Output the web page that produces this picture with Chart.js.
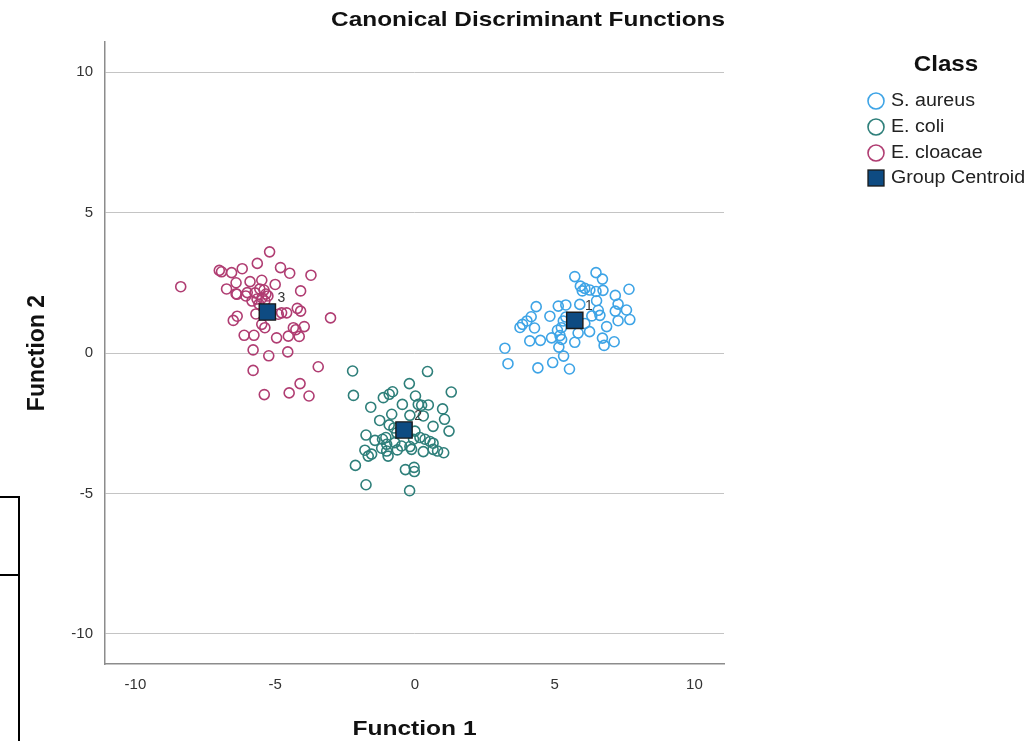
<!DOCTYPE html>
<html>
<head>
<meta charset="utf-8">
<script src="https://cdn.jsdelivr.net/npm/chart.js@4.4.1/dist/chart.umd.min.js"></script>
<style>
  html, body { margin: 0; padding: 0; background: #ffffff; }
  #wrap { position: relative; width: 1027px; height: 741px; }
</style>
</head>
<body>
<div id="wrap"><canvas id="chart" width="1027" height="741"></canvas></div>
<script>
// Canonical discriminant scores per class (Function 1, Function 2)
const saureusX = [5.72,6.48,6.71,5.92,6.08,5.99,6.26,6.48,6.73,7.66,7.17,7.27,7.57,7.17,4.34,4.16,4.01,3.85,3.76,4.83,5.13,5.40,5.90,6.50,6.56,6.62,7.27,7.69,6.86,5.31,5.24,4.28,5.10,5.19,5.25,6.25,5.84,4.11,4.49,4.89,5.72,6.71,6.77,7.13,5.15,3.22,3.33,4.40,4.93,5.32,5.53,5.40,6.08,6.33];
const saureusY = [2.72,2.86,2.63,2.38,2.30,2.21,2.24,2.19,2.23,2.27,2.05,1.74,1.53,1.49,1.65,1.29,1.14,1.02,0.91,1.31,1.67,1.71,1.73,1.86,1.52,1.34,1.15,1.19,0.94,1.14,0.90,0.89,0.81,0.62,0.48,0.76,0.71,0.43,0.45,0.54,0.38,0.53,0.27,0.40,0.21,0.17,-0.38,-0.53,-0.34,-0.11,-0.57,1.28,1.05,1.32];

const ecoliX = [-2.23,0.45,-0.20,-2.20,-1.13,-0.92,-0.80,1.30,0.02,-0.45,0.12,0.24,0.48,-1.58,-0.83,-0.18,0.30,0.99,1.06,1.22,-1.26,-0.92,-0.75,-0.65,0.65,-1.75,-1.43,-1.16,-1.01,-0.72,0.00,-0.05,0.18,0.36,0.54,0.65,-1.19,-1.01,-0.96,-0.63,-0.48,-0.18,-0.12,0.30,0.65,0.81,1.03,-1.79,-1.67,-1.55,-2.13,-0.34,-0.03,-0.02,-1.75,-0.19,-1.04];
const ecoliY = [-0.64,-0.66,-1.09,-1.51,-1.59,-1.47,-1.38,-1.39,-1.53,-1.83,-1.83,-1.86,-1.85,-1.93,-2.18,-2.22,-2.24,-1.99,-2.36,-2.78,-2.40,-2.56,-2.67,-2.84,-2.61,-2.92,-3.11,-3.07,-3.25,-3.19,-2.78,-3.07,-3.01,-3.07,-3.15,-3.21,-3.39,-3.49,-3.67,-3.45,-3.31,-3.33,-3.43,-3.51,-3.43,-3.49,-3.55,-3.46,-3.67,-3.60,-4.00,-4.15,-4.07,-4.22,-4.69,-4.90,-3.01];

const ecloacaeX = [-8.38,-7.00,-6.92,-6.56,-6.18,-5.64,-5.20,-4.81,-4.48,-3.72,-6.40,-5.90,-5.48,-5.00,-6.74,-6.40,-6.37,-6.00,-5.72,-5.55,-5.40,-5.33,-5.47,-5.65,-5.83,-5.58,-5.37,-5.26,-4.09,-6.36,-6.50,-5.48,-5.37,-6.11,-5.76,-4.95,-4.53,-4.35,-4.26,-4.14,-3.96,-4.21,-4.09,-4.59,-4.77,-4.89,-3.02,-5.79,-5.23,-4.55,-5.79,-3.46,-4.11,-5.39,-4.50,-3.79,-6.05,-5.69];
const ecloacaeY = [2.36,2.94,2.89,2.86,3.00,3.19,3.60,3.04,2.84,2.77,2.50,2.54,2.59,2.44,2.28,2.11,2.09,2.15,2.14,2.28,2.24,2.10,1.96,1.92,1.85,1.74,1.85,2.03,2.21,1.31,1.16,1.02,0.90,0.63,0.63,0.54,0.60,0.90,0.83,0.59,0.94,1.59,1.49,1.43,1.43,1.38,1.25,0.11,-0.10,0.04,-0.62,-0.49,-1.09,-1.48,-1.42,-1.53,2.03,1.39];

// Group centroids and their group numbers
const centroidX = [5.72, -0.39, -5.28];
const centroidY = [1.16, -2.74, 1.46];
const centroidLabels = ['1', '2', '3'];

const classNames = ['S. aureus', 'E. coli', 'E. cloacae'];
const tickValues = [-10, -5, 0, 5, 10];

const FONT = "'Liberation Sans', Arial, Helvetica, sans-serif";
const colors = { saureus: '#3ea4e6', ecoli: '#2e7f7a', ecloacae: '#b03d72', centroid: '#0e4b82' };

const zip = (xs, ys) => xs.map((x, i) => ({ x: x, y: ys[i] }));

function stretchText(ctx, text, x, y, font, sx, align, color) {
  ctx.save();
  ctx.font = font;
  ctx.fillStyle = color;
  ctx.textBaseline = 'middle';
  ctx.textAlign = align;
  ctx.translate(x, y);
  ctx.scale(sx, 1);
  ctx.fillText(text, 0, 0);
  ctx.restore();
}

// Titles, legend, centroid numbers and the frame at the left edge
const decorations = {
  id: 'decorations',
  afterDraw(chart) {
    const ctx = chart.ctx;
    const area = chart.chartArea;
    const xs = chart.scales.x, ys = chart.scales.y;

    // centroid group numbers
    ctx.save();
    ctx.font = '14px ' + FONT;
    ctx.fillStyle = '#333333';
    ctx.textAlign = 'center';
    ctx.textBaseline = 'middle';
    centroidX.forEach((cx, i) => {
      ctx.fillText(centroidLabels[i], xs.getPixelForValue(cx) + 14, ys.getPixelForValue(centroidY[i]) - 14);
    });
    ctx.restore();

    // chart title
    stretchText(ctx, 'Canonical Discriminant Functions', area.right + 1, 20, 'bold 21px ' + FONT, 1.16, 'right', '#111111');

    // axis titles
    stretchText(ctx, 'Function 1', (area.left + area.right) / 2, 729, 'bold 21px ' + FONT, 1.17, 'center', '#111111');
    ctx.save();
    ctx.translate(38, (area.top + area.bottom) / 2);
    ctx.rotate(-Math.PI / 2);
    ctx.font = 'bold 23px ' + FONT;
    ctx.fillStyle = '#111111';
    ctx.textAlign = 'center';
    ctx.textBaseline = 'middle';
    ctx.fillText('Function 2', 0, 0);
    ctx.restore();

    // legend
    stretchText(ctx, 'Class', 946, 65, 'bold 22px ' + FONT, 1.1, 'center', '#111111');
    const rowY = [101, 127, 153, 178];
    const legendColors = [colors.saureus, colors.ecoli, colors.ecloacae];
    ctx.save();
    legendColors.forEach((c, i) => {
      ctx.beginPath();
      ctx.arc(876, rowY[i], 8, 0, Math.PI * 2);
      ctx.lineWidth = 1.6;
      ctx.strokeStyle = c;
      ctx.stroke();
    });
    ctx.fillStyle = colors.centroid;
    ctx.fillRect(868, rowY[3] - 8, 16, 16);
    ctx.lineWidth = 1.3;
    ctx.strokeStyle = '#1a1a1a';
    ctx.strokeRect(868, rowY[3] - 8, 16, 16);
    ctx.restore();
    classNames.concat(['Group Centroid']).forEach((t, i) => {
      stretchText(ctx, t, 891, rowY[i], '18px ' + FONT, 1.09, 'left', '#222222');
    });

    // frame at the left edge
    ctx.save();
    ctx.strokeStyle = '#000000';
    ctx.lineWidth = 2;
    ctx.beginPath();
    ctx.moveTo(0, 497); ctx.lineTo(19, 497); ctx.lineTo(19, 741);
    ctx.moveTo(0, 575); ctx.lineTo(19, 575);
    ctx.stroke();
    ctx.restore();
  }
};

const pointSet = (label, xs, ys, color) => ({
  label: label,
  data: zip(xs, ys),
  order: 1,
  pointStyle: 'circle',
  pointRadius: 5,
  pointBorderWidth: 1.6,
  pointBorderColor: color,
  pointBackgroundColor: 'rgba(255,255,255,0)',
  showLine: false
});

new Chart(document.getElementById('chart'), {
  type: 'scatter',
  data: {
    datasets: [
      {
        label: 'Group Centroid',
        data: zip(centroidX, centroidY),
        order: 0,
        pointStyle: 'rect',
        pointRadius: 11.5,
        pointBorderWidth: 1.4,
        pointBorderColor: '#1a1a1a',
        pointBackgroundColor: colors.centroid
      },
      pointSet(classNames[0], saureusX, saureusY, colors.saureus),
      pointSet(classNames[1], ecoliX, ecoliY, colors.ecoli),
      pointSet(classNames[2], ecloacaeX, ecloacaeY, colors.ecloacae)
    ]
  },
  options: {
    responsive: false,
    devicePixelRatio: 1,
    animation: false,
    events: [],
    layout: { padding: { top: 42, right: 303, left: 0, bottom: 0 } },
    plugins: { legend: { display: false }, title: { display: false }, tooltip: { enabled: false } },
    scales: {
      x: {
        type: 'linear',
        min: -11.09,
        max: 11.06,
        afterBuildTicks: s => { s.ticks = tickValues.map(v => ({ value: v })); },
        afterFit: s => { s.height = 77; },
        grid: { display: false, drawTicks: false },
        border: { display: true, color: '#8c8c8c', width: 1.5 },
        ticks: { padding: 12, color: '#333333', font: { family: FONT, size: 15 } }
      },
      y: {
        type: 'linear',
        min: -11.07,
        max: 11.07,
        afterBuildTicks: s => { s.ticks = tickValues.map(v => ({ value: v })); },
        afterFit: s => { s.width = 105; },
        grid: { color: '#c4c4c4', lineWidth: 1, drawTicks: false },
        border: { display: true, color: '#8c8c8c', width: 1.5 },
        ticks: { padding: 12, color: '#333333', font: { family: FONT, size: 15 } }
      }
    }
  },
  plugins: [decorations]
});
</script>
</body>
</html>
